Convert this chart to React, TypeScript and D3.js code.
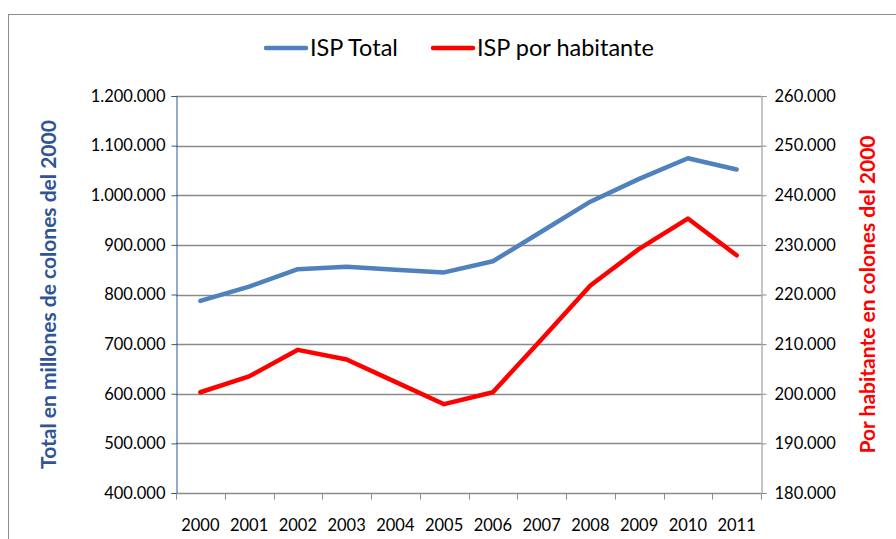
import React, { useEffect, useRef } from "react";
import * as d3 from "d3";

// years on the x axis
const years = ["2000", "2001", "2002", "2003", "2004", "2005", "2006", "2007", "2008", "2009", "2010", "2011"];
// ISP Total, millones de colones del 2000 (left axis)
const ispTotal = [787000, 816000, 851000, 856000, 850000, 844500, 867000, 927000, 987000, 1033000, 1074500, 1052000];
// ISP por habitante, colones del 2000 (right axis)
const ispHabitante = [200300, 203500, 208850, 206900, 202400, 197900, 200300, 211000, 221800, 229200, 235300, 227900];
const leftTicks = [400000, 500000, 600000, 700000, 800000, 900000, 1000000, 1100000, 1200000];
const rightTicks = [180000, 190000, 200000, 210000, 220000, 230000, 240000, 250000, 260000];

const W = 896;
const H = 539;
const BLUE = "#4F81BD";
const RED = "#FF0000";
const FONT = "Lato, 'Open Sans', sans-serif";

const fmt = (v: number) => d3.format(",")(v).replace(/,/g, ".");

export default function App() {
  const ref = useRef<SVGSVGElement>(null);

  useEffect(() => {
    const svg = d3.select(ref.current);
    svg.selectAll("*").remove();

    const margin = { left: 176, right: W - 761, top: 96, bottom: H - 493 };
    const x = d3.scaleBand().domain(years).range([margin.left, W - margin.right]);
    const yL = d3.scaleLinear().domain([400000, 1200000]).range([H - margin.bottom, margin.top]);
    const yR = d3.scaleLinear().domain([180000, 260000]).range([H - margin.bottom, margin.top]);

    // chart frame
    svg.append("rect")
      .attr("x", 8.5).attr("y", 14.5)
      .attr("width", W).attr("height", H)
      .attr("fill", "none").attr("stroke", "#8c8c8c").attr("stroke-width", 1);

    // gridlines
    svg.append("g")
      .selectAll("line")
      .data(leftTicks)
      .enter()
      .append("line")
      .attr("x1", margin.left).attr("x2", W - margin.right)
      .attr("y1", (d) => Math.round(yL(d)) + 0.5).attr("y2", (d) => Math.round(yL(d)) + 0.5)
      .attr("stroke", "#8a8a8a").attr("stroke-width", 1.3);

    // left axis
    const gl = svg.append("g").attr("transform", `translate(${margin.left + 0.5},0)`)
      .call(d3.axisLeft(yL).tickValues(leftTicks).tickFormat((d: any) => fmt(d)).tickSize(5).tickPadding(6));
    gl.select(".domain").attr("stroke", "#2F5597");
    gl.selectAll(".tick line").attr("stroke", "#2F5597");
    gl.selectAll("text").attr("font-family", FONT).attr("font-size", 16.5).attr("fill", "#000");

    // right axis
    const gr = svg.append("g").attr("transform", `translate(${W - margin.right + 0.5},0)`)
      .call(d3.axisRight(yR).tickValues(rightTicks).tickFormat((d: any) => fmt(d)).tickSize(5).tickPadding(8));
    gr.select(".domain").attr("stroke", "#8a8a8a");
    gr.selectAll(".tick line").attr("stroke", "#8a8a8a");
    gr.selectAll("text").attr("font-family", FONT).attr("font-size", 16.5).attr("fill", "#000");

    // bottom axis with ticks between categories
    const gb = svg.append("g").attr("transform", `translate(0,${H - margin.bottom + 0.5})`);
    gb.append("line")
      .attr("x1", margin.left).attr("x2", W - margin.right)
      .attr("stroke", "#8a8a8a");
    const bounds = years.map((y) => x(y)!).concat([W - margin.right]);
    gb.selectAll(".xt")
      .data(bounds)
      .enter()
      .append("line")
      .attr("class", "xt")
      .attr("x1", (d) => Math.round(d) + 0.5).attr("x2", (d) => Math.round(d) + 0.5)
      .attr("y1", 0).attr("y2", 6)
      .attr("stroke", "#8a8a8a");
    gb.selectAll(".xl")
      .data(years)
      .enter()
      .append("text")
      .attr("class", "xl")
      .attr("x", (d) => x(d)! + x.bandwidth() / 2)
      .attr("y", 37)
      .attr("text-anchor", "middle")
      .attr("font-family", FONT).attr("font-size", 16.5)
      .text((d) => d);

    // lines
    const cx = (i: number) => x(years[i])! + x.bandwidth() / 2;
    const lineL = d3.line<number>().x((d, i) => cx(i)).y((d) => yL(d));
    const lineR = d3.line<number>().x((d, i) => cx(i)).y((d) => yR(d));
    svg.append("path").datum(ispTotal)
      .attr("d", lineL).attr("fill", "none")
      .attr("stroke", BLUE).attr("stroke-width", 4.5)
      .attr("stroke-linejoin", "round").attr("stroke-linecap", "round");
    svg.append("path").datum(ispHabitante)
      .attr("d", lineR).attr("fill", "none")
      .attr("stroke", RED).attr("stroke-width", 4.5)
      .attr("stroke-linejoin", "round").attr("stroke-linecap", "round");

    // axis titles
    svg.append("text")
      .attr("transform", `translate(56,${(margin.top + H - margin.bottom) / 2}) rotate(-90)`)
      .attr("text-anchor", "middle")
      .attr("font-family", FONT).attr("font-size", 21).attr("font-weight", "bold")
      .attr("fill", "#2F5597")
      .text("Total en millones de colones del 2000");
    svg.append("text")
      .attr("transform", `translate(875,${(margin.top + H - margin.bottom) / 2}) rotate(-90)`)
      .attr("text-anchor", "middle")
      .attr("font-family", FONT).attr("font-size", 21).attr("font-weight", "bold")
      .attr("fill", RED)
      .text("Por habitante en colones del 2000");

    // legend
    const legend = [
      { name: "ISP Total", color: BLUE, x: 266 },
      { name: "ISP por habitante", color: RED, x: 433 },
    ];
    const lg = svg.append("g");
    legend.forEach((l) => {
      lg.append("line")
        .attr("x1", l.x).attr("x2", l.x + 40)
        .attr("y1", 48).attr("y2", 48)
        .attr("stroke", l.color).attr("stroke-width", 4.5).attr("stroke-linecap", "round");
      lg.append("text")
        .attr("x", l.x + 44).attr("y", 56)
        .attr("font-family", FONT).attr("font-size", 23.5)
        .text(l.name);
    });
  }, []);

  return (
    <svg
      ref={ref}
      width={W}
      height={H}
      style={{ position: "absolute", left: 0, top: 0, background: "#fff" }}
    />
  );
}
